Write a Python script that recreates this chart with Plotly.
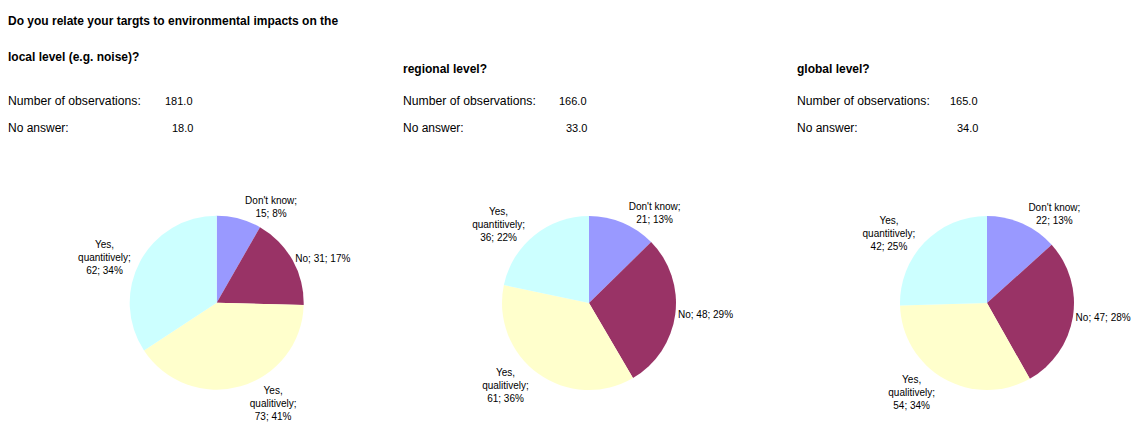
import plotly.graph_objects as go

W, H = 1134, 448

categories = ["Don't know", "No", "Yes, qualitively", "Yes, quantitively"]
label_lines = [["Don't know;"], ["No;"], ["Yes,", "qualitively;"], ["Yes,", "quantitively;"]]
colors = ["#9999FF", "#993366", "#FFFFCC", "#CCFFFF"]

local_values = [15, 31, 73, 62]
local_pct = [8, 17, 41, 34]
regional_values = [21, 48, 61, 36]
regional_pct = [13, 29, 36, 22]
global_values = [22, 47, 54, 42]
global_pct = [13, 28, 34, 25]

panel_titles = ["local level (e.g. noise)?", "regional level?", "global level?"]
observations = [181.0, 166.0, 165.0]
no_answer = [18.0, 33.0, 34.0]
question = "Do you relate your targts to environmental impacts on the"

FONT = "Liberation Sans, Arial, sans-serif"


def px_x(x):
    return x / W


def px_y(y):
    return 1 - y / H


def make_text(values, pcts):
    out = []
    for lines, v, p in zip(label_lines, values, pcts):
        if lines == ["No;"]:
            out.append(f"No; {v}; {p}%")
        elif len(lines) == 1:
            out.append(f"{lines[0]}<br>{v}; {p}%")
        else:
            out.append("<br>".join(lines) + f"<br>{v}; {p}%")
    return out


centers_px = [(216.7, 302.7), (589.0, 303.0), (987.0, 303.0)]
radius_px = 87.0

fig = go.Figure()
for (cx, cy), vals, pcts in zip(centers_px,
                                [local_values, regional_values, global_values],
                                [local_pct, regional_pct, global_pct]):
    fig.add_trace(go.Pie(
        labels=categories,
        values=vals,
        text=make_text(vals, pcts),
        textinfo="text",
        textposition="outside",
        sort=False,
        direction="clockwise",
        rotation=0,
        marker=dict(colors=colors, line=dict(width=0)),
        textfont=dict(family=FONT, size=10, color="black"),
        outsidetextfont=dict(family=FONT, size=10, color="black"),
        hoverinfo="label+value+percent",
        automargin=False,
        showlegend=False,
        domain=dict(x=[px_x(cx - radius_px), px_x(cx + radius_px)],
                    y=[px_y(cy + radius_px), px_y(cy - radius_px)]),
    ))

annotations = []


def add_text(txt, xpx, ypx, anchor="left", size=12, bold=False):
    if bold:
        txt = f"<b>{txt}</b>"
    annotations.append(dict(text=txt, x=px_x(xpx), y=px_y(ypx), xref="paper", yref="paper",
                            xanchor=anchor, yanchor="middle", showarrow=False,
                            font=dict(family=FONT, size=size, color="black")))


add_text(question, 6, 21, bold=True)
header_x = [6, 401, 795]
title_y = [57, 68.5, 68.5]
value_right = [195, 589, 980]
for i in range(3):
    add_text(panel_titles[i], header_x[i], title_y[i], bold=True)
    add_text("Number of observations:", header_x[i], 100.5, size=12.2)
    add_text("No answer:", header_x[i], 127.5)
    add_text(f"{observations[i]:.1f}", value_right[i], 100.5, anchor="right", size=11)
    add_text(f"{no_answer[i]:.1f}", value_right[i], 127.5, anchor="right", size=11)

fig.update_layout(
    width=W, height=H,
    margin=dict(l=0, r=0, t=0, b=0),
    paper_bgcolor="white",
    plot_bgcolor="white",
    annotations=annotations,
    font=dict(family=FONT),
)

# remove the browser's default page margin so the figure fills the window exactly
fig.write_html("out.html", config={"displayModeBar": False},
               post_script="document.body.style.margin='0px';document.body.style.overflow='hidden';")
